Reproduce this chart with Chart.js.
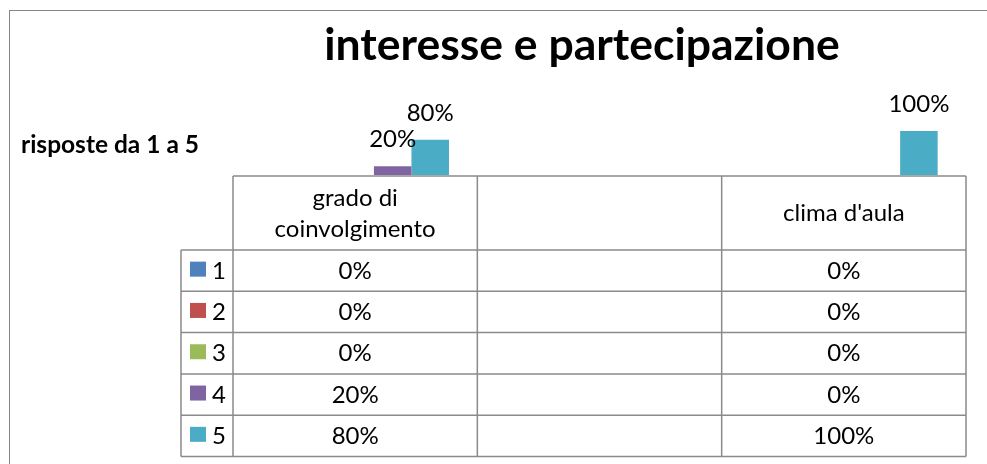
<!DOCTYPE html>
<html>
<head>
<meta charset="utf-8">
<title>interesse e partecipazione</title>
<script src="https://cdn.jsdelivr.net/npm/chart.js@4.4.1/dist/chart.umd.min.js"></script>
<style>
  html, body { margin: 0; padding: 0; background: #fff; overflow: hidden; }
  .wrap { position: relative; width: 987px; height: 464px; overflow: hidden; }
  .frame { position: absolute; left: 9px; top: 10px; width: 1000px; height: 500px; border: 1px solid #868686; }
  #chart { position: absolute; left: 0; top: 0; }
</style>
</head>
<body>
<div class="wrap">
  <div class="frame"></div>
  <canvas id="chart" width="987" height="464"></canvas>
</div>
<script>
const chartTitle = 'interesse e partecipazione';
const axisTitle = 'risposte da 1 a 5';
// categorie (intestazione tabella, con a capo)
const categories = [['grado di', 'coinvolgimento'], [''], ["clima d'aula"]];
const seriesNames = ['1', '2', '3', '4', '5'];
const seriesColors = ['#4F81BD', '#C0504D', '#9BBB59', '#8064A2', '#4BACC6'];
// valori in percentuale, la colonna centrale e' vuota
const risposta1 = [0, null, 0];
const risposta2 = [0, null, 0];
const risposta3 = [0, null, 0];
const risposta4 = [20, null, 0];
const risposta5 = [80, null, 100];
const allValues = [risposta1, risposta2, risposta3, risposta4, risposta5];

const FONT = 'Lato, "Open Sans", sans-serif';
const GRID = '#8a8a8a';

const tablePlugin = {
  id: 'dataTable',
  afterDraw(chart) {
    const ctx = chart.ctx;
    const area = chart.chartArea;
    const xs = chart.scales.x;
    const colW = (area.right - area.left) / categories.length;
    const top = area.bottom + 1;
    const headH = 74;
    const rowH = 41.3;
    const legendLeft = area.left - 52;
    const bottom = top + headH + rowH * seriesNames.length;

    ctx.save();
    ctx.strokeStyle = GRID;
    ctx.lineWidth = 1.5;
    // righe orizzontali
    ctx.beginPath();
    ctx.moveTo(area.left, top);
    ctx.lineTo(area.right, top);
    for (let r = 0; r <= seriesNames.length; r++) {
      const y = top + headH + r * rowH;
      ctx.moveTo(legendLeft, y);
      ctx.lineTo(area.right, y);
    }
    // colonne
    ctx.moveTo(legendLeft, top + headH);
    ctx.lineTo(legendLeft, bottom);
    for (let c = 0; c <= categories.length; c++) {
      const x = area.left + c * colW;
      ctx.moveTo(x, top);
      ctx.lineTo(x, bottom);
    }
    ctx.stroke();

    ctx.fillStyle = '#000';
    ctx.font = '24px ' + FONT;
    ctx.textAlign = 'center';
    ctx.textBaseline = 'alphabetic';
    // intestazioni
    categories.forEach((lines, i) => {
      const cx = xs.getPixelForValue(i);
      const lh = 31;
      lines.forEach((t, k) => {
        const y = top + headH / 2 + 8 + (k - (lines.length - 1) / 2) * lh;
        ctx.fillText(t, cx, y);
      });
    });
    // valori e legenda
    seriesNames.forEach((name, r) => {
      const cy = top + headH + r * rowH + rowH / 2;
      ctx.textAlign = 'center';
      ctx.fillStyle = '#000';
      allValues[r].forEach((v, i) => {
        if (v === null) return;
        ctx.fillText(v + '%', xs.getPixelForValue(i), cy + 8);
      });
      ctx.fillStyle = seriesColors[r];
      ctx.fillRect(legendLeft + 9, cy - 9, 16, 15);
      ctx.fillStyle = '#000';
      ctx.textAlign = 'left';
      ctx.fillText(name, legendLeft + 31, cy + 8);
    });

    // etichette dati sopra le barre
    ctx.textAlign = 'center';
    chart.data.datasets.forEach((ds, d) => {
      const meta = chart.getDatasetMeta(d);
      meta.data.forEach((bar, i) => {
        const v = ds.data[i];
        if (!v) return;
        ctx.fillText(v + '%', bar.x, bar.y - 19);
      });
    });

    // titoli
    ctx.font = 'bold 44.5px ' + FONT;
    ctx.fillText(chartTitle, 582, 60);
    ctx.font = 'bold 24.5px ' + FONT;
    ctx.textAlign = 'left';
    ctx.fillText(axisTitle, 21, 153);
    ctx.restore();
  }
};

new Chart(document.getElementById('chart'), {
  type: 'bar',
  data: {
    labels: categories.map(c => c.join(' ')),
    datasets: seriesNames.map((name, i) => ({
      label: name,
      data: allValues[i],
      backgroundColor: seriesColors[i],
      borderWidth: 0,
      barPercentage: 1,
      categoryPercentage: 0.768
    }))
  },
  options: {
    responsive: false,
    animation: false,
    layout: { padding: { left: 233, right: 21, top: 131, bottom: 289 } },
    plugins: { legend: { display: false }, title: { display: false }, tooltip: { enabled: false } },
    scales: {
      x: { display: false },
      y: { display: false, min: 0, max: 100 }
    }
  },
  plugins: [tablePlugin]
});
</script>
</body>
</html>
